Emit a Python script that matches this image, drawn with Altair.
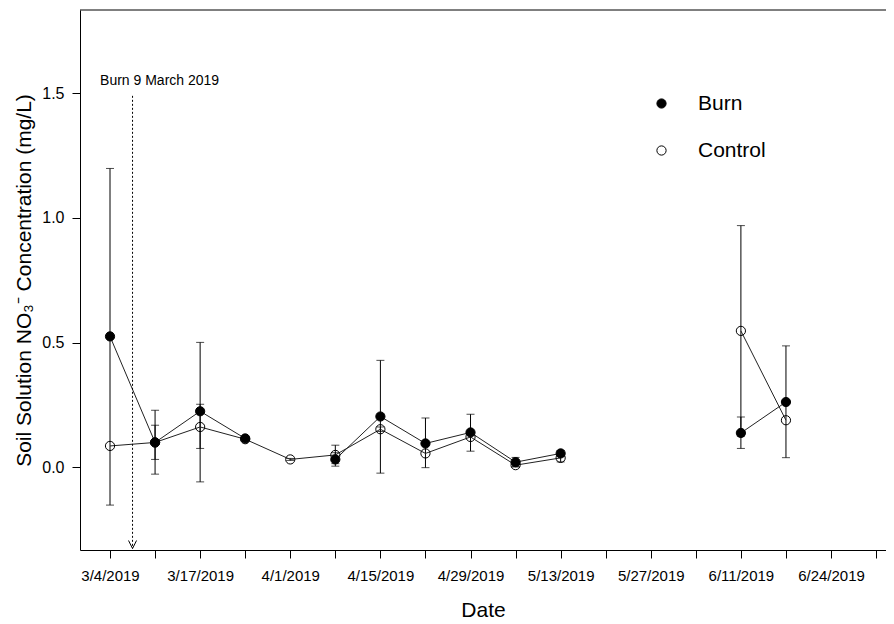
import json
import altair as alt
import pandas as pd

# ---- data ----
idx = list(range(1, 17))
tick_labels = ["3/4/2019", "", "3/17/2019", "", "4/1/2019", "", "4/15/2019", "",
               "4/29/2019", "", "5/13/2019", "", "5/27/2019", "", "6/11/2019", "",
               "6/24/2019", ""]

burn = [0.525, 0.100, 0.225, 0.116, None, 0.032, 0.204, 0.096, 0.140, 0.021, 0.056,
        None, None, None, 0.138, 0.262]
burn_lo = [-0.151, -0.027, -0.058, None, None, 0.005, -0.023, -0.001, 0.065, 0.002, 0.044,
           None, None, None, 0.076, 0.039]
burn_hi = [1.198, 0.229, 0.501, None, None, 0.059, 0.429, 0.198, 0.213, 0.040, 0.068,
           None, None, None, 0.202, 0.487]

control = [0.086, 0.100, 0.162, 0.113, 0.032, 0.050, 0.153, 0.056, 0.122, 0.009, 0.038,
           None, None, None, 0.547, 0.189]
control_lo = [None, 0.032, 0.076, None, 0.028, 0.015, 0.144, None, None, 0.003, 0.022,
              None, None, None, 0.125, None]
control_hi = [None, 0.169, 0.253, None, 0.036, 0.089, 0.162, None, None, 0.015, 0.054,
              None, None, None, 0.969, None]

burn_date_x = [1.5]
annot_text = ["Burn 9 March 2019"]
annot_x = [2.1]
annot_y = [1.547]
arrow_top = [1.489]
arrow_bottom = [-0.325]

# ---- build tables ----
rows = []
for name, vals, lo, hi in [("Control", control, control_lo, control_hi),
                           ("Burn", burn, burn_lo, burn_hi)]:
    seg = 0
    for i, v, l, h in zip(idx, vals, lo, hi):
        if v is None:
            seg += 1
        rows.append({"series": name, "x": i, "y": v, "lo": l, "hi": h,
                     "seg": f"{name}-{seg}"})
df = pd.DataFrame(rows)
pts = df.dropna(subset=["y"])
err = df.dropna(subset=["lo", "hi"])
caps = pd.concat([err[["x", "lo"]].rename(columns={"lo": "v"}),
                  err[["x", "hi"]].rename(columns={"hi": "v"})])

W, H = 806, 540
xdom = [0.334, 18.22]
ydom = [-0.331, 1.833]
FONT = "Liberation Sans"

xscale = alt.Scale(domain=xdom, nice=False, zero=False)
yscale = alt.Scale(domain=ydom, nice=False, zero=False)

label_expr = json.dumps(tick_labels) + "[datum.value - 1]"

xax = alt.Axis(values=list(range(1, 19)), labelExpr=label_expr, grid=False,
               tickSize=8, tickColor="black", domainColor="black", labelColor="black",
               labelFont=FONT, labelFontSize=15, labelPadding=10, labelOverlap=False,
               labelFlush=False, title="Date", titleFont=FONT, titleFontSize=21,
               titleFontWeight="normal", titleColor="black", titlePadding=16)
yax = alt.Axis(values=[0, 0.5, 1.0, 1.5], format=".1f", grid=False, tickSize=8,
               tickColor="black", domainColor="black", labelColor="black",
               labelFont=FONT, labelFontSize=16, labelPadding=8,
               title="Soil Solution NO\u2083\u207b Concentration (mg/L)",
               titleFont=FONT, titleFontSize=21, titleFontWeight="normal",
               titleColor="black", titlePadding=7)

errbars = alt.Chart(err).mark_rule(color="black", strokeWidth=1).encode(
    x=alt.X("x:Q", scale=xscale, axis=xax),
    y=alt.Y("lo:Q", scale=yscale, axis=yax),
    y2="hi:Q",
)
capmarks = alt.Chart(caps).mark_tick(orient="horizontal", size=8, thickness=1,
                                     color="black").encode(
    x=alt.X("x:Q", scale=xscale), y=alt.Y("v:Q", scale=yscale))

lines = alt.Chart(pts).mark_line(color="#222222", strokeWidth=1).encode(
    x=alt.X("x:Q", scale=xscale), y=alt.Y("y:Q", scale=yscale),
    detail="seg:N", order="x:Q")

points = alt.Chart(pts).mark_point(shape="circle", size=85, stroke="black",
                                   strokeWidth=1, opacity=1, filled=False).encode(
    x=alt.X("x:Q", scale=xscale), y=alt.Y("y:Q", scale=yscale),
    fill=alt.Fill("series:N",
                  scale=alt.Scale(domain=["Burn", "Control"],
                                  range=["black", "transparent"]),
                  legend=alt.Legend(title=None, orient="none", legendX=571, legendY=83,
                                    padding=0, symbolType="circle", symbolSize=85,
                                    symbolStrokeColor="black", symbolStrokeWidth=1,
                                    labelFont=FONT, labelFontSize=21, labelColor="black",
                                    labelOffset=26, rowPadding=25)),
)

annot_df = pd.DataFrame({"x": annot_x, "y": annot_y, "t": annot_text})
annot = alt.Chart(annot_df).mark_text(font=FONT, fontSize=14, color="black").encode(
    x=alt.X("x:Q", scale=xscale), y=alt.Y("y:Q", scale=yscale), text="t:N")

arrow_df = pd.DataFrame({"x": burn_date_x, "top": arrow_top, "bot": arrow_bottom})
arrow_line = alt.Chart(arrow_df).mark_rule(color="black", strokeWidth=1,
                                           strokeDash=[2, 2]).encode(
    x=alt.X("x:Q", scale=xscale), y=alt.Y("top:Q", scale=yscale), y2="bot:Q")
arrow_head = alt.Chart(arrow_df).mark_point(
    shape="M-0.8,-1.6L0,0L0.8,-1.6", size=100, filled=False, stroke="black",
    strokeWidth=1, opacity=1).encode(
    x=alt.X("x:Q", scale=xscale), y=alt.Y("bot:Q", scale=yscale))

top_line = alt.Chart(annot_df).mark_rule(color="black", strokeWidth=1).encode(
    x=alt.value(0), x2=alt.value(W), y=alt.value(0))

chart = alt.layer(errbars, capmarks, lines, points, annot, arrow_line, arrow_head,
                  top_line).properties(
    width=W, height=H,
    autosize=alt.AutoSizeParams(type="none"),
    padding={"left": 72, "top": 2, "right": 0, "bottom": 74},
).configure_view(stroke=None)

chart.save("out.html", embed_options={"renderer": "svg", "actions": False})
